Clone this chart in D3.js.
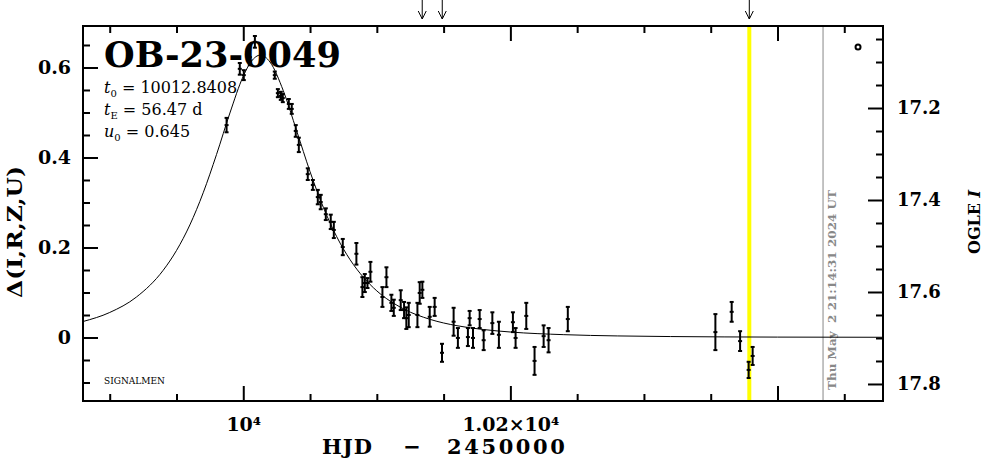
<!DOCTYPE html>
<html>
<head>
<meta charset="utf-8">
<script src="https://cdn.jsdelivr.net/npm/d3@7"></script>
<style>
  html, body { margin: 0; padding: 0; background: #fff; }
  svg { display: block; }
  text { white-space: pre; }
</style>
</head>
<body>
<svg id="chart" width="986" height="459"></svg>
<script>
// ---------------- data ----------------
const eventName = "OB-23-0049";
const paramLines = [
  { sym: "t", sub: "0", rest: " = 10012.8408" },
  { sym: "t", sub: "E", rest: " = 56.47 d" },
  { sym: "u", sub: "0", rest: " = 0.645" }
];
// observations: HJD-2450000, Δ (mag), error
const obsHJD = [9987.5, 9997.4, 10000.4, 10004.9, 10008.7, 10023.6, 10025.9, 10028.1, 10029.6, 10034.1,
  10036.3, 10039.3, 10041.6, 10048.3, 10052.1, 10055.8, 10058.0, 10061.8, 10065.5, 10067.8,
  10074.5, 10084.7, 10089.2, 10091.0, 10093.0, 10095.2, 10104.2, 10107.2, 10110.9, 10112.7,
  10117.9, 10120.4, 10122.1, 10123.9, 10130.4, 10132.1, 10134.1, 10139.6, 10143.3, 10148.8,
  10157.5, 10160.7, 10168.2, 10169.5, 10172.0, 10177.0, 10180.0, 10186.5, 10191.4, 10201.9,
  10203.9, 10211.9, 10218.1, 10224.9, 10228.6, 10243.0, 10353.5, 10365.7, 10372.0, 10378.4, 10381.4];
const obsDelta = [0.472, 0.597, 0.583, 0.614, 0.657, 0.583, 0.543, 0.537, 0.532, 0.519,
  0.508, 0.459, 0.428, 0.363, 0.339, 0.312, 0.301, 0.274, 0.257, 0.239,
  0.201, 0.186, 0.112, 0.121, 0.121, 0.146, 0.090, 0.134, 0.077, 0.066,
  0.083, 0.061, 0.043, 0.050, 0.050, 0.099, 0.106, 0.046, 0.068, -0.034,
  0.035, -0.001, 0.001, 0.043, -0.001, 0.041, -0.006, 0.032, 0.006, 0.034,
  -0.001, 0.048, -0.052, 0.003, -0.006, 0.041, 0.012, 0.057, -0.008, -0.072, -0.041];
const obsErr = [0.016, 0.013, 0.011, 0.009, 0.013, 0.008, 0.009, 0.009, 0.009, 0.011,
  0.011, 0.013, 0.016, 0.013, 0.011, 0.016, 0.016, 0.013, 0.016, 0.018,
  0.018, 0.024, 0.022, 0.020, 0.011, 0.022, 0.022, 0.022, 0.018, 0.018,
  0.022, 0.018, 0.024, 0.027, 0.027, 0.024, 0.018, 0.022, 0.020, 0.020,
  0.031, 0.022, 0.020, 0.016, 0.022, 0.020, 0.022, 0.024, 0.029, 0.022,
  0.022, 0.029, 0.031, 0.024, 0.027, 0.027, 0.040, 0.022, 0.022, 0.018, 0.020];
// model light curve read along the drawn fit
const modelHJD = [9880, 9900, 9920, 9940, 9950, 9960, 9970, 9980, 9990, 10000, 10006, 10012.84,
  10020, 10030, 10040, 10050, 10060, 10070, 10080, 10090, 10100, 10120, 10140, 10160, 10180,
  10200, 10240, 10280, 10320, 10360, 10400, 10479];
const modelDelta = [0.0355, 0.0556, 0.0899, 0.1492, 0.1933, 0.2501, 0.3216, 0.4068, 0.4989, 0.5807,
  0.6135, 0.6276, 0.6122, 0.5482, 0.4591, 0.3685, 0.2889, 0.2238, 0.1728, 0.1336, 0.1036, 0.0636,
  0.0402, 0.0262, 0.0177, 0.0122, 0.0063, 0.0035, 0.0021, 0.0013, 0.0009, 0.0005];
// markers
const arrowHJD = [10134.0, 10149.0, 10378.9];
const currentHJD = 10378.9;   // yellow line
const nowHJD = 10434.1;       // grey line
const nowLabel = "Thu May  2 21:14:31 2024 UT";
// axes
const hjdDomain = [9880, 10479];
const deltaDomain = [-0.1411, 0.6922];
const magDomain = [17.837, 17.0217];
const hjdMajorTicks = [10000, 10200, 10400];
const hjdTickLabels = ["10⁴", "1.02×10⁴", ""];
const hjdMinorTicks = [9900, 9950, 10050, 10100, 10150, 10250, 10300, 10350, 10450];
const deltaMajorTicks = [0, 0.2, 0.4, 0.6];
const deltaTickLabels = ["0", "0.2", "0.4", "0.6"];
const deltaMinorTicks = [-0.1, -0.05, 0.05, 0.1, 0.15, 0.25, 0.3, 0.35, 0.45, 0.5, 0.55, 0.65];
const magMajorTicks = [17.2, 17.4, 17.6, 17.8];
const magMinorTicks = [17.05, 17.1, 17.15, 17.25, 17.3, 17.35, 17.45, 17.5, 17.55, 17.65, 17.7, 17.75];
const xLabelParts = ["HJD", " − ", "2450000"];
const yLabel = "Δ(I,R,Z,U)";
const y2Label = ["OGLE ", "I"];
const credit = "SIGNALMEN";
const legendHJD = 10460.3, legendDelta = 0.6456;

// ---------------- drawing ----------------
const svg = d3.select("#chart");
const L = 83, R = 883, T = 26, B = 401;
const x = d3.scaleLinear().domain(hjdDomain).range([L, R]);
const y = d3.scaleLinear().domain(deltaDomain).range([B, T]);
const yMag = d3.scaleLinear().domain(magDomain).range([B, T]);

const serif = "'DejaVu Serif', serif";

// yellow & grey vertical lines
svg.append("line").attr("x1", x(currentHJD)).attr("x2", x(currentHJD))
  .attr("y1", T).attr("y2", B).attr("stroke", "#ffff00").attr("stroke-width", 4);
svg.append("line").attr("x1", x(nowHJD)).attr("x2", x(nowHJD))
  .attr("y1", T).attr("y2", B).attr("stroke", "#888").attr("stroke-width", 1);

// date text
svg.append("text")
  .attr("transform", `translate(${x(nowHJD) + 13},${B - 11}) rotate(-90)`)
  .attr("font-family", serif).attr("font-weight", "bold").attr("font-size", 11)
  .attr("fill", "#888").attr("textLength", 200).attr("lengthAdjust", "spacingAndGlyphs")
  .text(nowLabel);

// model curve
const line = d3.line().x((d, i) => x(modelHJD[i])).y(d => y(d)).curve(d3.curveMonotoneX);
svg.append("path").datum(modelDelta).attr("d", line)
  .attr("fill", "none").attr("stroke", "#000").attr("stroke-width", 1);

// error bars
const pts = obsHJD.map((t, i) => ({ t, d: obsDelta[i], e: obsErr[i] }));
const eb = svg.append("g").attr("stroke", "#000").attr("stroke-width", 2);
pts.forEach(p => {
  const px = x(p.t), y1 = y(p.d - p.e), y2 = y(p.d + p.e), yc = y(p.d);
  eb.append("line").attr("x1", px).attr("x2", px).attr("y1", y1).attr("y2", y2);
  eb.append("line").attr("x1", px - 2).attr("x2", px + 2).attr("y1", y1).attr("y2", y1);
  eb.append("line").attr("x1", px - 2).attr("x2", px + 2).attr("y1", y2).attr("y2", y2);
  eb.append("line").attr("x1", px - 2).attr("x2", px + 2).attr("y1", yc).attr("y2", yc);
});

// axes
function styleAxis(g, size) {
  g.select(".domain").remove();
  g.selectAll(".tick line").attr("stroke", "#000").attr("stroke-width", 2);
  g.selectAll("text").attr("font-family", serif).attr("font-weight", "bold")
    .attr("font-size", size || 19).attr("fill", "#000");
}
svg.append("g").attr("transform", `translate(0,${B})`)
  .call(d3.axisBottom(x).tickValues(hjdMajorTicks).tickSize(-15).tickPadding(17)
    .tickFormat((d, i) => hjdTickLabels[i])).call(g => styleAxis(g, 19));
svg.append("g").attr("transform", `translate(0,${B})`)
  .call(d3.axisBottom(x).tickValues(hjdMinorTicks).tickSize(-7).tickFormat("")).call(g => styleAxis(g));
svg.append("g").attr("transform", `translate(0,${T})`)
  .call(d3.axisTop(x).tickValues(hjdMajorTicks).tickSize(-15).tickFormat("")).call(g => styleAxis(g));
svg.append("g").attr("transform", `translate(0,${T})`)
  .call(d3.axisTop(x).tickValues(hjdMinorTicks).tickSize(-7).tickFormat("")).call(g => styleAxis(g));
svg.append("g").attr("transform", `translate(${L},0)`)
  .call(d3.axisLeft(y).tickValues(deltaMajorTicks).tickSize(-15).tickPadding(12)
    .tickFormat((d, i) => deltaTickLabels[i])).call(g => styleAxis(g, 19));
svg.append("g").attr("transform", `translate(${L},0)`)
  .call(d3.axisLeft(y).tickValues(deltaMinorTicks).tickSize(-7).tickFormat("")).call(g => styleAxis(g));
svg.append("g").attr("transform", `translate(${R},0)`)
  .call(d3.axisRight(yMag).tickValues(magMajorTicks).tickSize(-15).tickPadding(14)
    .tickFormat(d3.format(".1f"))).call(g => styleAxis(g, 18));
svg.append("g").attr("transform", `translate(${R},0)`)
  .call(d3.axisRight(yMag).tickValues(magMinorTicks).tickSize(-7).tickFormat("")).call(g => styleAxis(g));

// frame
svg.append("rect").attr("x", L).attr("y", T).attr("width", R - L).attr("height", B - T)
  .attr("fill", "none").attr("stroke", "#000").attr("stroke-width", 2);

// arrows at top
const ag = svg.append("g").attr("stroke", "#000").attr("stroke-width", 1).attr("fill", "none");
arrowHJD.forEach(t => {
  const ax = x(t);
  ag.append("line").attr("x1", ax).attr("x2", ax).attr("y1", 0).attr("y2", 19);
  ag.append("path").attr("d", `M${ax - 4},11 L${ax},19 L${ax + 4},11`);
});

// legend symbol
svg.append("circle").attr("cx", x(legendHJD)).attr("cy", y(legendDelta)).attr("r", 2.5)
  .attr("fill", "none").attr("stroke", "#000").attr("stroke-width", 2);

// title and parameters
svg.append("text").attr("x", 104).attr("y", 67)
  .attr("font-family", serif).attr("font-weight", "bold").attr("font-size", 36)
  .attr("textLength", 237).attr("lengthAdjust", "spacingAndGlyphs")
  .text(eventName);
paramLines.forEach((p, i) => {
  const t = svg.append("text").attr("x", 104).attr("y", 93 + i * 22)
    .attr("font-family", serif).attr("font-size", 16);
  t.append("tspan").attr("font-style", "italic").text(p.sym);
  t.append("tspan").attr("font-size", 10).attr("dy", 4).text(p.sub);
  t.append("tspan").attr("dy", -4).text(p.rest);
});
svg.append("text").attr("x", 104).attr("y", 384)
  .attr("font-family", serif).attr("font-size", 9).text(credit);

// axis labels
const xl = svg.append("text").attr("x", 322).attr("y", 454)
  .attr("font-family", serif).attr("font-weight", "bold").attr("font-size", 21);
xl.append("tspan").attr("letter-spacing", 1).text(xLabelParts[0]);
xl.append("tspan").attr("x", 396).text(xLabelParts[1]);
xl.append("tspan").attr("x", 447).attr("letter-spacing", 2.6).text(xLabelParts[2]);

svg.append("text").attr("transform", `translate(22,232) rotate(-90)`)
  .attr("text-anchor", "middle")
  .attr("font-family", serif).attr("font-weight", "bold").attr("font-size", 20)
  .attr("textLength", 132).attr("lengthAdjust", "spacingAndGlyphs")
  .text(yLabel);
const y2 = svg.append("text").attr("transform", `translate(980,222) rotate(-90)`)
  .attr("text-anchor", "middle")
  .attr("font-family", serif).attr("font-weight", "bold").attr("font-size", 16);
y2.append("tspan").text(y2Label[0]);
y2.append("tspan").attr("font-style", "italic").text(y2Label[1]);
</script>
</body>
</html>
